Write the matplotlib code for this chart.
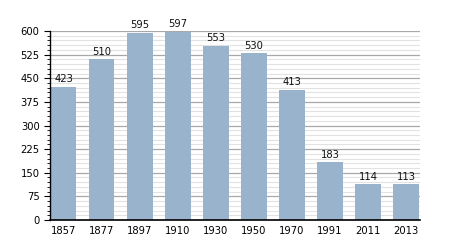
import matplotlib
matplotlib.use("Agg")
import matplotlib.pyplot as plt
from matplotlib.ticker import MultipleLocator

years = ["1857", "1877", "1897", "1910", "1930", "1950", "1970", "1991", "2011", "2013"]
population = [423, 510, 595, 597, 553, 530, 413, 183, 114, 113]

fig = plt.figure(figsize=(4.5, 2.5), dpi=100)
ax = fig.add_axes([0.111, 0.12, 0.822, 0.756])

x = range(len(years))
ax.bar(x, population, width=0.67, color="#99b3cc", zorder=3)

for i, v in zip(x, population):
    ax.text(i, v + 8, str(v), ha="center", va="bottom", fontsize=7.2, color="#111111")

ax.set_ylim(0, 600)
ax.set_xlim(-0.36, len(years) - 1 + 0.36)
ax.yaxis.set_major_locator(MultipleLocator(75))
ax.yaxis.set_minor_locator(MultipleLocator(15))
ax.grid(True, which="major", axis="y", color="#a8a8a8", linewidth=0.9, zorder=0)
ax.grid(True, which="minor", axis="y", color="#e2e2e2", linewidth=0.8, zorder=0)

ax.set_xticks(list(x))
ax.set_xticklabels(years)
ax.tick_params(axis="x", length=0, labelsize=7.2, pad=4)
ax.tick_params(axis="y", which="major", length=4, width=0.8, labelsize=7.2)
ax.tick_params(axis="y", which="minor", length=2, width=0.6)

for s in ["top", "right"]:
    ax.spines[s].set_visible(False)
ax.spines["left"].set_linewidth(1.0)
ax.spines["bottom"].set_linewidth(1.2)
ax.spines["left"].set_zorder(5)
ax.spines["bottom"].set_zorder(5)

fig.savefig("out.png", dpi=100)
